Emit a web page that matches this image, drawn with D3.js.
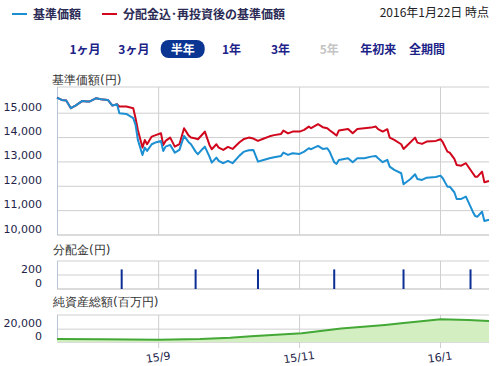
<!DOCTYPE html>
<html>
<head>
<meta charset="utf-8">
<script src="https://cdn.jsdelivr.net/npm/d3@7"></script>
<style>
  body { margin: 0; background: #fff; }
  text { font-family: "DejaVu Sans", sans-serif; }
  .jp { font-family: "Noto Sans CJK JP", sans-serif; }
</style>
</head>
<body>
<svg width="500" height="366"></svg>
<script>
// ---- data ----
const dates = [
  '2015-07-19','2015-07-21','2015-07-23','2015-07-25','2015-07-27','2015-07-30','2015-08-01','2015-08-02',
  '2015-08-05','2015-08-07','2015-08-10','2015-08-12','2015-08-14','2015-08-15','2015-08-18','2015-08-21',
  '2015-08-22','2015-08-23','2015-08-25','2015-08-26','2015-08-27','2015-08-29','2015-08-31','2015-09-02',
  '2015-09-03','2015-09-04','2015-09-06','2015-09-08','2015-09-10','2015-09-12','2015-09-14','2015-09-15',
  '2015-09-17','2015-09-18','2015-09-20','2015-09-21','2015-09-23','2015-09-24','2015-09-26','2015-09-27',
  '2015-09-29','2015-10-01','2015-10-03','2015-10-06','2015-10-08','2015-10-10','2015-10-12','2015-10-14',
  '2015-10-16','2015-10-19','2015-10-21','2015-10-24','2015-10-25','2015-10-27','2015-10-29','2015-11-01',
  '2015-11-03','2015-11-05','2015-11-06','2015-11-09','2015-11-11','2015-11-13','2015-11-14','2015-11-16',
  '2015-11-17','2015-11-18','2015-11-22','2015-11-24','2015-11-26','2015-11-29','2015-12-02','2015-12-04',
  '2015-12-05','2015-12-07','2015-12-09','2015-12-10','2015-12-12','2015-12-15','2015-12-16','2015-12-19',
  '2015-12-21','2015-12-22','2015-12-24','2015-12-26','2015-12-30','2016-01-01','2016-01-02','2016-01-04',
  '2016-01-05','2016-01-07','2016-01-08','2016-01-10','2016-01-12','2016-01-15','2016-01-16','2016-01-17',
  '2016-01-19','2016-01-20','2016-01-22'
];

// 基準価額
const kijun = [
  15640,15546,15518,15205,15312,15505,15477,15477,
  15616,15575,15546,15312,15370,15000,14971,14795,
  14519,13903,13287,13587,13451,13726,13809,13862,
  13451,13628,13698,13381,13492,14067,13809,13726,
  13423,13316,13533,13628,13217,12971,13176,13040,
  12946,13040,12946,13258,13423,13480,13492,13012,
  13069,13151,13192,13246,13381,13287,13357,13328,
  13423,13562,13521,13657,13533,13562,13423,12987,
  12917,13082,13151,12987,13151,13151,13217,13246,
  13151,12987,13082,12806,12671,12535,12083,12301,
  12494,12301,12260,12354,12383,12437,12330,11985,
  11985,11755,11479,11479,11574,10958,10781,10752,
  10958,10576,10629
];

// 分配金込・再投資後の基準価額
const reinvest = [
  15640,15546,15518,15205,15312,15505,15477,15477,
  15616,15575,15546,15312,15370,15271,15271,15205,
  14795,14314,13587,13903,13726,14039,14109,14178,
  13698,13862,13998,13628,13726,14384,14080,13998,
  13960,13932,14137,14244,13698,13521,13726,13587,
  13492,13616,13533,13809,13944,13998,13960,13862,
  13940,14050,14100,14150,14285,14170,14244,14244,
  14314,14450,14384,14548,14425,14384,14300,14160,
  14080,14285,14355,14178,14355,14384,14408,14450,
  14343,14244,14343,13998,13903,13726,13533,13809,
  13998,13792,13739,13833,13862,13932,13809,13423,
  13381,13123,12876,12847,12946,12535,12396,12396,
  12601,12165,12219
];

// 分配金(円)
const divDates = ['2015-08-16','2015-09-17','2015-10-14','2015-11-16','2015-12-16','2016-01-14'];
const divValues = [280, 280, 280, 280, 280, 280];

// 純資産総額(百万円)
const navDates = ['2015-07-19','2015-08-07','2015-09-01','2015-09-19','2015-10-02','2015-10-11','2015-11-02',
  '2015-11-19','2015-12-08','2015-12-15','2015-12-29','2016-01-01','2016-01-13','2016-01-22'];
const navValues = [4700, 4200, 3400, 4600, 6500, 9000, 13800, 21000, 26600, 29200, 34300, 35400, 34300, 32800];

const priceTicks = [10000, 11000, 12000, 13000, 14000, 15000];
const divTicks = [0, 200];
const navTicks = [0, 20000];
const monthTicks = ['2015-09-01', '2015-11-01', '2016-01-01'];
const monthLabels = ['15/9', '15/11', '16/1'];
const periods = ['1ヶ月', '3ヶ月', '半年', '1年', '3年', '5年', '年初来', '全期間'];
const activePeriod = '半年';
const disabledPeriod = '5年';

// ---- setup ----
const svg = d3.select('svg');
const parse = d3.timeParse('%Y-%m-%d');
const fmt = d3.format(',');

const blue = '#1b8fd2';
const red = '#d0071d';
const grid = '#cfcfcf';
const labelColor = '#23234a';

const x = d3.scaleTime()
    .domain([parse('2015-07-19'), parse('2016-01-22')])
    .range([57, 489]);

const y = d3.scaleLinear().domain([10000, 16075]).range([235, 87]);
const yDiv = d3.scaleLinear().domain([0, 400]).range([289, 261]);
const yNav = d3.scaleLinear().domain([0, 42000]).range([342, 315]);

// ---- header legend ----
const legend = svg.append('g');
legend.append('line').attr('x1', 12).attr('x2', 27).attr('y1', 14).attr('y2', 14)
    .attr('stroke', blue).attr('stroke-width', 2);
legend.append('text').attr('class', 'jp').attr('x', 33).attr('y', 18.5)
    .attr('font-size', 12).attr('font-weight', 'bold').attr('fill', '#2b2b55')
    .text('基準価額');
legend.append('line').attr('x1', 102).attr('x2', 117).attr('y1', 14).attr('y2', 14)
    .attr('stroke', red).attr('stroke-width', 2);
legend.append('text').attr('class', 'jp').attr('x', 123).attr('y', 18.5)
    .attr('font-size', 12).attr('font-weight', 'bold').attr('fill', '#2b2b55')
    .text('分配金込･再投資後の基準価額');
svg.append('text').attr('class', 'jp').attr('x', 489).attr('y', 16.5)
    .attr('text-anchor', 'end').attr('font-size', 12).attr('fill', '#222')
    .text('2016年1月22日 時点');

// ---- period buttons ----
const bx = d3.scalePoint().domain(periods).range([85, 427]);
const btn = svg.append('g').selectAll('g').data(periods).join('g')
    .attr('transform', d => `translate(${bx(d)}, 49)`);
btn.filter(d => d === activePeriod).append('rect')
    .attr('x', -22).attr('y', -9).attr('width', 44).attr('height', 18)
    .attr('rx', 8).attr('fill', '#0a3592');
btn.append('text').attr('class', 'jp')
    .attr('text-anchor', 'middle').attr('y', 4.5)
    .attr('font-size', 12).attr('font-weight', 'bold')
    .attr('fill', d => d === activePeriod ? '#fff' : d === disabledPeriod ? '#c4c4c4' : '#1c2388')
    .text(d => d);

// ---- panel titles ----
const titles = svg.append('g').attr('class', 'jp').attr('font-size', 12).attr('fill', '#333');
titles.append('text').attr('x', 52).attr('y', 83.5).text('基準価額(円)');
titles.append('text').attr('x', 53).attr('y', 253.5).text('分配金(円)');
titles.append('text').attr('x', 53).attr('y', 305.5).text('純資産総額(百万円)');

// ---- grids ----
function panelGrid(scale, ticks, top, bottom, tickBottom) {
  const g = svg.append('g');
  g.selectAll('.h').data(ticks).join('line')
      .attr('x1', 57).attr('x2', 489)
      .attr('y1', d => scale(d)).attr('y2', d => scale(d))
      .attr('stroke', grid);
  g.append('line').attr('x1', 57).attr('x2', 489).attr('y1', top).attr('y2', top).attr('stroke', grid);
  g.append('line').attr('x1', 57).attr('x2', 489).attr('y1', bottom).attr('y2', bottom).attr('stroke', grid);
  g.selectAll('.v').data(monthTicks).join('line')
      .attr('x1', d => x(parse(d))).attr('x2', d => x(parse(d)))
      .attr('y1', top).attr('y2', tickBottom)
      .attr('stroke', grid);
  g.append('line').attr('x1', 57.5).attr('x2', 57.5).attr('y1', top).attr('y2', bottom)
      .attr('stroke', '#b9c6d6');
  g.selectAll('text').data(ticks).join('text')
      .attr('x', 42).attr('y', d => scale(d) - 2.5)
      .attr('text-anchor', 'end').attr('font-size', 11).attr('fill', labelColor)
      .text(d => fmt(d));
}
panelGrid(y, priceTicks, 87, 235, 235);
panelGrid(yDiv, divTicks, 261, 289, 289);
panelGrid(yNav, navTicks, 315, 342, 348);

// ---- price lines ----
const pts = dates.map((d, i) => ({ date: parse(d), k: kijun[i], r: reinvest[i] }));
const line = key => d3.line().x(d => x(d.date)).y(d => y(d[key]));
svg.append('path').datum(pts).attr('d', line('r'))
    .attr('fill', 'none').attr('stroke', red).attr('stroke-width', 2).attr('stroke-linejoin', 'round');
svg.append('path').datum(pts).attr('d', line('k'))
    .attr('fill', 'none').attr('stroke', blue).attr('stroke-width', 2).attr('stroke-linejoin', 'round');

// ---- distribution bars ----
svg.append('g').selectAll('rect').data(divDates).join('rect')
    .attr('x', d => x(parse(d)) - 1).attr('width', 2)
    .attr('y', (d, i) => yDiv(divValues[i]))
    .attr('height', (d, i) => yDiv(0) - yDiv(divValues[i]))
    .attr('fill', '#0b2f94');

// ---- net assets area ----
const nav = navDates.map((d, i) => ({ date: parse(d), v: navValues[i] }));
svg.append('path').datum(nav)
    .attr('d', d3.area().x(d => x(d.date)).y0(yNav(0)).y1(d => yNav(d.v)))
    .attr('fill', '#d3efc2');
svg.append('path').datum(nav)
    .attr('d', d3.line().x(d => x(d.date)).y(d => yNav(d.v)))
    .attr('fill', 'none').attr('stroke', '#43a836').attr('stroke-width', 2);

// ---- x labels ----
svg.append('g').selectAll('text').data(monthTicks).join('text')
    .attr('transform', d => `translate(${x(parse(d))}, 361) rotate(-8)`)
    .attr('text-anchor', 'middle').attr('font-size', 11).attr('fill', labelColor)
    .text((d, i) => monthLabels[i]);
</script>
</body>
</html>
